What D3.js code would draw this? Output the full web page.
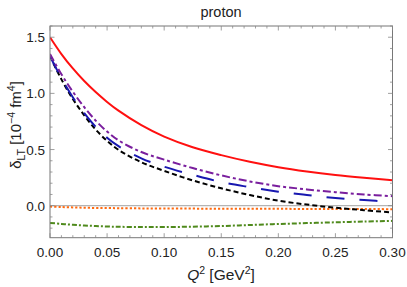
<!DOCTYPE html>
<html>
<head>
<meta charset="utf-8">
<script src="https://cdn.jsdelivr.net/npm/d3@7"></script>
<style>
  body { margin: 0; background: #fff; }
  text { font-family: "Liberation Sans", Arial, sans-serif; fill: #222; }
</style>
</head>
<body>
<svg width="407" height="287"></svg>
<script>
var q2 = [0, 0.01, 0.02, 0.03, 0.04, 0.05, 0.06, 0.08, 0.1, 0.125, 0.15, 0.175, 0.2, 0.225, 0.25, 0.275, 0.3];

var redVals    = [1.5, 1.35, 1.222, 1.11, 1.012, 0.924, 0.846, 0.717, 0.615, 0.52, 0.45, 0.391, 0.343, 0.305, 0.274, 0.249, 0.227];
var purpleVals = [1.35, 1.17, 1.015, 0.877, 0.758, 0.66, 0.582, 0.478, 0.41, 0.335, 0.27, 0.216, 0.174, 0.145, 0.12, 0.10, 0.085];
var blueVals   = [1.33, 1.135, 0.965, 0.825, 0.703, 0.605, 0.53, 0.422, 0.347, 0.275, 0.21, 0.165, 0.125, 0.095, 0.068, 0.05, 0.035];
var blackVals  = [1.33, 1.125, 0.95, 0.805, 0.678, 0.577, 0.497, 0.387, 0.31, 0.225, 0.155, 0.095, 0.045, 0.01, -0.018, -0.04, -0.06];
var orangeVals = [-0.008, -0.012, -0.015, -0.018, -0.02, -0.021, -0.022, -0.024, -0.025, -0.026, -0.027, -0.028, -0.028, -0.029, -0.03, -0.03, -0.031];
var greenVals  = [-0.153, -0.162, -0.17, -0.176, -0.181, -0.185, -0.188, -0.19, -0.19, -0.187, -0.181, -0.172, -0.163, -0.155, -0.148, -0.141, -0.135];

var xTicks = [0, 0.05, 0.1, 0.15, 0.2, 0.25, 0.3];
var yTicks = [0, 0.5, 1.0, 1.5];

var series = [
  { vals: greenVals,  color: "#4f8a1c", dash: "5,2,2,2" },
  { vals: orangeVals, color: "#ff6a10", dash: "2.2,2" },
  { vals: blackVals,  color: "#000000", dash: "5,3" },
  { vals: blueVals,   color: "#1818b0", dash: "18,15" },
  { vals: purpleVals, color: "#7a1f9e", dash: "8,3,3,3" },
  { vals: redVals,    color: "#ff1010", dash: null }
];

var svg = d3.select("svg");
var L = 50, R = 392.5, T = 26, B = 237.7;

var x = d3.scaleLinear().domain([0, 0.3]).range([L, R]);
var y = d3.scaleLinear().domain([-0.285, 1.6]).range([B, T]);

// zero line
svg.append("line")
  .attr("x1", L).attr("x2", R)
  .attr("y1", y(0)).attr("y2", y(0))
  .attr("stroke", "#b4b4b4").attr("stroke-width", 1.2);

var line = d3.line()
  .x(function (d, i) { return x(q2[i]); })
  .y(function (d) { return y(d); })
  .curve(d3.curveCatmullRom.alpha(0.5));

svg.append("clipPath").attr("id", "clip")
  .append("rect").attr("x", L).attr("y", T).attr("width", R - L).attr("height", B - T);

series.forEach(function (s) {
  svg.append("path")
    .attr("d", line(s.vals))
    .attr("clip-path", "url(#clip)")
    .attr("fill", "none")
    .attr("stroke", s.color)
    .attr("stroke-width", 2)
    .attr("stroke-dasharray", s.dash);
});

// frame
svg.append("rect")
  .attr("x", L).attr("y", T).attr("width", R - L).attr("height", B - T)
  .attr("fill", "none").attr("stroke", "#777").attr("stroke-width", 1);

// ticks on all sides, pointing inward
var tickColor = "#888";
d3.range(0, 0.3001, 0.01).forEach(function (v) {
  var major = Math.abs(v * 20 - Math.round(v * 20)) < 1e-6;
  var len = major ? 4.5 : 2.5;
  svg.append("line").attr("x1", x(v)).attr("x2", x(v)).attr("y1", B).attr("y2", B - len)
    .attr("stroke", tickColor).attr("stroke-width", 0.8);
  svg.append("line").attr("x1", x(v)).attr("x2", x(v)).attr("y1", T).attr("y2", T + len)
    .attr("stroke", tickColor).attr("stroke-width", 0.8);
});
d3.range(-0.2, 1.6001, 0.1).forEach(function (v) {
  var major = Math.abs(v * 2 - Math.round(v * 2)) < 1e-6;
  var len = major ? 4.5 : 2.5;
  svg.append("line").attr("x1", L).attr("x2", L + len).attr("y1", y(v)).attr("y2", y(v))
    .attr("stroke", tickColor).attr("stroke-width", 0.8);
  svg.append("line").attr("x1", R).attr("x2", R - len).attr("y1", y(v)).attr("y2", y(v))
    .attr("stroke", tickColor).attr("stroke-width", 0.8);
});

// tick labels
xTicks.forEach(function (v) {
  svg.append("text")
    .text(d3.format(".2f")(v))
    .attr("x", x(v)).attr("y", 256.5)
    .attr("text-anchor", "middle")
    .attr("font-size", 13.5);
});
yTicks.forEach(function (v) {
  svg.append("text")
    .text(d3.format(".1f")(v))
    .attr("x", 45).attr("y", y(v) + 5)
    .attr("text-anchor", "end")
    .attr("font-size", 13.5);
});

// title
svg.append("text")
  .text("proton")
  .attr("x", 221).attr("y", 17)
  .attr("text-anchor", "middle")
  .attr("font-size", 14.5);

// x axis label
var xl = svg.append("text")
  .attr("x", 221).attr("y", 280)
  .attr("text-anchor", "middle")
  .attr("font-size", 15.5);
xl.append("tspan").text("Q").attr("font-style", "italic");
xl.append("tspan").text("2").attr("font-size", 10.5).attr("dy", -6);
xl.append("tspan").text(" [GeV").attr("dy", 6);
xl.append("tspan").text("2").attr("font-size", 10.5).attr("dy", -6);
xl.append("tspan").text("]").attr("dy", 6);

// y axis label
var yl = svg.append("text")
  .attr("transform", "translate(21,125) rotate(-90)")
  .attr("text-anchor", "middle")
  .attr("font-size", 15);
yl.append("tspan").text("δ");
yl.append("tspan").text("LT").attr("font-size", 10.5).attr("dy", 3.5);
yl.append("tspan").text(" [10").attr("dy", -3.5);
yl.append("tspan").text("−4").attr("font-size", 10.5).attr("dy", -6);
yl.append("tspan").text(" fm").attr("dy", 6);
yl.append("tspan").text("4").attr("font-size", 10.5).attr("dy", -6);
yl.append("tspan").text("]").attr("dy", 6);
</script>
</body>
</html>
